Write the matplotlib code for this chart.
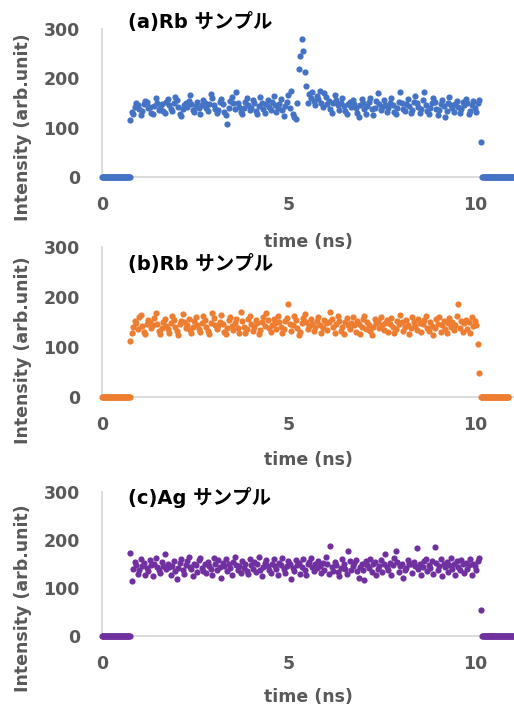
import numpy as np
import matplotlib
matplotlib.use("Agg")
import matplotlib.pyplot as plt

plt.rcParams['font.family'] = ['DejaVu Sans', 'Noto Sans CJK JP']

# ---------------- data ----------------
dt = 0.04          # ns between samples
t_start = 0.76     # first non-zero sample (ns)

rb_a = [
    115, 132, 128, 141, 150, 146, 137, 125, 133, 148, 155, 152, 139, 142, 130, 127, 144, 160, 151, 136, 140, 147, 134, 129, 152,
    158, 145, 138, 133, 149, 163, 156, 141, 128, 124, 137, 146, 150, 142, 155, 166, 148, 135, 131, 143, 152, 139, 127, 145, 157,
    150, 140, 134, 148, 168, 160, 145, 138, 129, 136, 152, 158, 147, 132, 126, 108, 140, 155, 163, 149, 137, 172, 150, 142, 131,
    128, 139, 153, 161, 146, 135, 140, 157, 149, 133, 127, 144, 162, 150, 138, 130, 148, 156, 141, 135, 152, 164, 145, 132, 139,
    147, 158, 135, 124, 143, 152, 166, 140, 174, 128, 122, 118, 150, 218, 245, 280, 255, 213, 185, 150, 168, 160, 172, 155, 145,
    165, 158, 175, 150, 142, 170, 162, 148, 155, 138, 130, 149, 166, 157, 145, 136, 150, 160, 144, 133, 127, 148, 153, 141, 156,
    147, 139, 130, 122, 145, 158, 150, 137, 128, 143, 152, 161, 138, 126, 140, 155, 170, 148, 135, 142, 157, 146, 132, 139, 151,
    160, 145, 131, 127, 140, 153, 172, 149, 138, 133, 147, 158, 143, 130, 136, 152, 165, 150, 141, 129, 137, 156, 172, 145, 134,
    128, 140, 149, 160, 152, 138, 126, 135, 147, 157, 143, 122, 133, 150, 162, 146, 139, 131, 148, 155, 141, 130, 137, 152, 145,
    158, 150, 127, 134, 146, 155, 140, 131, 150, 157, 70,
]

rb_b = [
    113, 128, 140, 152, 148, 136, 160, 165, 142, 131, 127, 146, 155, 150, 138, 144, 158, 168, 147, 133, 126, 139, 151, 157, 143,
    136, 129, 148, 162, 155, 141, 132, 125, 146, 153, 166, 150, 138, 144, 157, 135, 128, 140, 152, 160, 145, 137, 131, 149, 163,
    154, 140, 133, 127, 148, 168, 158, 145, 136, 142, 150, 165, 147, 130, 126, 139, 155, 160, 143, 135, 149, 157, 138, 129, 170,
    152, 141, 128, 137, 156, 163, 146, 133, 140, 155, 148, 127, 135, 150, 160, 143, 168, 154, 139, 131, 145, 157, 149, 136, 162,
    150, 141, 128, 136, 153, 158, 187, 147, 132, 144, 162, 155, 139, 125, 130, 148, 159, 166, 150, 136, 143, 157, 147, 132, 140,
    152, 161, 145, 129, 138, 155, 148, 134, 150, 170, 157, 140, 128, 146, 162, 153, 133, 141, 126, 150, 158, 144, 137, 149, 160,
    144, 131, 153, 147, 127, 140, 156, 162, 136, 150, 145, 133, 124, 141, 157, 148, 152, 138, 160, 145, 134, 149, 155, 130, 147,
    158, 141, 129, 137, 152, 146, 165, 150, 132, 140, 155, 144, 127, 138, 160, 151, 143, 135, 157, 148, 130, 146, 154, 162, 139,
    133, 150, 142, 125, 138, 156, 147, 160, 131, 144, 153, 137, 128, 148, 158, 141, 150, 135, 145, 162, 186, 139, 152, 130, 148,
    155, 137, 150, 128, 160, 143, 152, 145, 107, 48,
]

ag_c = [
    172, 115, 140, 155, 148, 130, 137, 160, 145, 152, 128, 141, 135, 158, 147, 126, 150, 163, 143, 138, 132, 155, 146, 170, 139,
    150, 144, 128, 145, 157, 135, 118, 142, 153, 160, 137, 130, 148, 156, 165, 144, 139, 126, 151, 147, 134, 159, 162, 142, 136,
    150, 131, 154, 145, 140, 128, 163, 149, 137, 158, 143, 120, 152, 146, 160, 135, 150, 141, 127, 155, 164, 148, 138, 145, 132,
    157, 142, 150, 135, 129, 161, 147, 140, 155, 133, 149, 165, 138, 126, 143, 152, 158, 145, 137, 131, 150, 160, 146, 140, 128,
    153, 148, 162, 139, 132, 145, 156, 150, 119, 141, 136, 158, 147, 153, 130, 144, 160, 138, 127, 151, 155, 163, 143, 135, 149,
    141, 157, 146, 132, 152, 138, 165, 150, 129, 188, 144, 136, 155, 147, 133, 124, 142, 160, 151, 139, 130, 178, 157, 137, 145,
    152, 159, 135, 120, 144, 150, 138, 116, 156, 147, 141, 160, 133, 149, 155, 128, 139, 145, 158, 134, 151, 170, 143, 137, 153,
    128, 148, 162, 178, 155, 133, 146, 150, 121, 137, 142, 158, 150, 149, 131, 154, 145, 184, 139, 150, 127, 143, 156, 160, 135,
    148, 141, 157, 130, 186, 152, 138, 145, 160, 126, 150, 143, 155, 134, 147, 162, 139, 151, 128, 156, 144, 137, 158, 149, 132,
    153, 140, 147, 160, 128, 150, 145, 138, 156, 162, 55,
]

titles = ["(a)Rb サンプル", "(b)Rb サンプル", "(c)Ag サンプル"]
colors = ["#4472C4", "#ED7D31", "#7030A0"]
zero_end = [11.3, 10.9, 11.3]
xticks = [0, 5, 10]
yticks = [0, 100, 200, 300]

# layout in pixels: (axes top, axes bottom, title y, xlabel y, ylabel centre y)
layout = [
    (29, 177, 22, 242, 127),
    (247, 397, 264, 460, 350),
    (492, 636, 497, 697, 598),
]

W, H = 514, 708
fig = plt.figure(figsize=(W / 100, H / 100), dpi=100)
gray = "#595959"
left_px, right_px = 102, 514

for i, vals_list in enumerate([rb_a, rb_b, ag_c]):
    top, bot, ty, xly, yly = layout[i]
    ax = fig.add_axes([left_px / W, 1 - bot / H, (right_px - left_px) / W, (bot - top) / H])
    vals = np.array(vals_list, dtype=float)
    t = t_start + dt * np.arange(len(vals))
    t0 = np.arange(0, t_start - 1e-9, dt / 2)
    t1 = np.arange(t[-1] + dt, zero_end[i], dt / 2)
    ax.scatter(t0, np.zeros(len(t0)), s=20, color=colors[i], linewidths=0, zorder=3, clip_on=False)
    ax.scatter(t1, np.zeros(len(t1)), s=20, color=colors[i], linewidths=0, zorder=3, clip_on=False)
    ax.scatter(t, vals, s=20, color=colors[i], linewidths=0, zorder=3, clip_on=False)
    ax.set_xlim(0, 11.05)
    ax.set_ylim(0, 300)
    ax.set_xticks(xticks)
    ax.set_yticks(yticks)
    for s in ["top", "right"]:
        ax.spines[s].set_visible(False)
    for s in ["left", "bottom"]:
        ax.spines[s].set_color("#D9D9D9")
        ax.spines[s].set_linewidth(1.3)
    ax.tick_params(axis="x", length=0, pad=14, labelsize=12.5, labelcolor=gray)
    ax.tick_params(axis="y", length=0, pad=16, labelsize=12.5, labelcolor=gray)
    for lab in ax.get_xticklabels() + ax.get_yticklabels():
        lab.set_fontweight("bold")
    ax.set_facecolor("none")
    fig.text(128 / W, 1 - ty / H, titles[i], fontsize=14, fontweight="bold",
             color="black", ha="left", va="center")
    fig.text(308 / W, 1 - xly / H, "time (ns)", fontsize=12.5, fontweight="bold",
             color=gray, ha="center", va="center")
    fig.text(23 / W, 1 - yly / H, "Intensity (arb.unit)", fontsize=12.5, fontweight="bold",
             color=gray, ha="center", va="center", rotation=90)

fig.savefig("out.png", dpi=100)
